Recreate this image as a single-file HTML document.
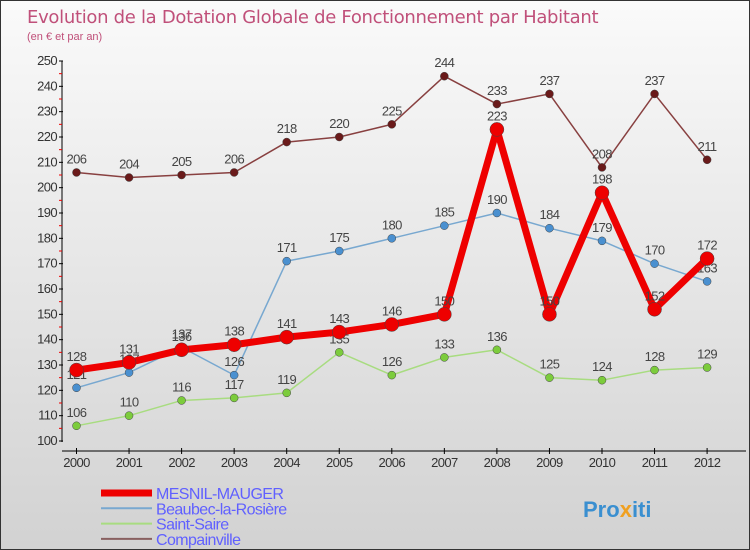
<!DOCTYPE html>
<html><head><meta charset="utf-8"><style>
body{margin:0;}
#c{width:750px;height:550px;position:relative;box-sizing:border-box;border:1px solid #333;background:linear-gradient(#fafafa,#d2d2d2);font-family:"Liberation Sans",sans-serif;overflow:hidden}
svg text{font-family:"Liberation Sans",sans-serif}
</style></head><body>
<div id="c">
<svg id="s" width="750" height="550">
<text x="26" y="22" font-size="18" fill="#c0507a" style="font-family:'DejaVu Sans',sans-serif;letter-spacing:-0.3px">Evolution de la Dotation Globale de Fonctionnement par Habitant</text>
<text x="26" y="39" font-size="11" fill="#c0507a">(en € et par an)</text>
</svg>
</div>
<script>
const years=[2000,2001,2002,2003,2004,2005,2006,2007,2008,2009,2010,2011,2012];
const mesnil=[128,131,136,138,141,143,146,150,223,150,198,152,172];
const beaubec=[121,127,137,126,171,175,180,185,190,184,179,170,163];
const saint=[106,110,116,117,119,135,126,133,136,125,124,128,129];
const compain=[206,204,205,206,218,220,225,244,233,237,208,237,211];
const yTicks=[100,110,120,130,140,150,160,170,180,190,200,210,220,230,240,250];
const NS="http://www.w3.org/2000/svg",s=document.getElementById('s');
const X=i=>75.5+i*52.55, Y=v=>440-(v-100)*380/150;
function mk(t,a,p){const e=document.createElementNS(NS,t);for(const k in a)e.setAttribute(k,a[k]);(p||s).appendChild(e);return e;}
let ax=mk('g',{});


mk('line',{x1:61,y1:60,x2:61,y2:441,stroke:'#000','stroke-width':1},ax);
yTicks.forEach(v=>{mk('line',{x1:58,y1:Y(v),x2:62,y2:Y(v),stroke:'#000'},ax);
 if(v<250)mk('line',{x1:58,y1:Y(v+5),x2:61,y2:Y(v+5),stroke:'#e00'},ax);
 const t=mk('text',{x:56,y:Y(v)+4,'font-size':13,fill:'#333','text-anchor':'end','letter-spacing':'-0.6'},ax);t.textContent=v;
 
 });
let xa=mk('g',{});


mk('line',{x1:61,y1:450,x2:745,y2:450,stroke:'#000'},xa);
years.forEach((y,i)=>{mk('line',{x1:X(i),y1:447,x2:X(i),y2:453,stroke:'#000'},xa);
 const t=mk('text',{x:X(i),y:466,'font-size':13,fill:'#333','text-anchor':'middle','letter-spacing':'-0.6'},xa);t.textContent=y;
 
 });
function series(d,col,w,r,dot,name){const g=mk('g',{});
 
 
 mk('polyline',{points:d.map((v,i)=>X(i)+','+Y(v)).join(' '),fill:'none',stroke:col,'stroke-width':w,'stroke-linejoin':'round'},g);
 d.forEach((v,i)=>{const c=mk('circle',{cx:X(i),cy:Y(v),r:r,fill:dot,stroke:'#444','stroke-width':0.5},g);
  
  
  const t=mk('text',{x:X(i),y:Y(v)-9,'font-size':13,fill:'#444','text-anchor':'middle','letter-spacing':'-0.6'},g);t.textContent=v;
  
  });}
series(saint,'#a8dc80',1.5,4,'#7ccc3c','saint-saire-series');
series(beaubec,'#78a8d0',1.5,4,'#4a90d0','beaubec-series');
series(compain,'#884040',1.5,4,'#6a1a1a','compainville-series');
series(mesnil,'#ee0000',7,7,'#ee0000','mesnil-mauger-series');
const leg=[['MESNIL-MAUGER','#ee0000',7],['Beaubec-la-Rosière','#78a8d0',2],['Saint-Saire','#a8dc80',2],['Compainville','#886060',2]];
leg.forEach((l,i)=>{const g=mk('g',{});
 
 
 const y=492+i*15.3;
 mk('line',{x1:100,y1:y,x2:151,y2:y,stroke:l[1],'stroke-width':l[2]},g);
 const t=mk('text',{x:155,y:y+6,'font-size':16,fill:'#6060ff','letter-spacing':'-0.6'},g);t.textContent=l[0];});
const lg=mk('text',{x:582,y:516,'font-size':22,'font-weight':'bold',fill:'#3a8fd0'});


[['Pro','#3a8fd0'],['x','#f0a020'],['iti','#3a8fd0']].forEach(p=>{const ts=mk('tspan',{fill:p[1]},lg);ts.textContent=p[0];});
</script>
</body></html>
